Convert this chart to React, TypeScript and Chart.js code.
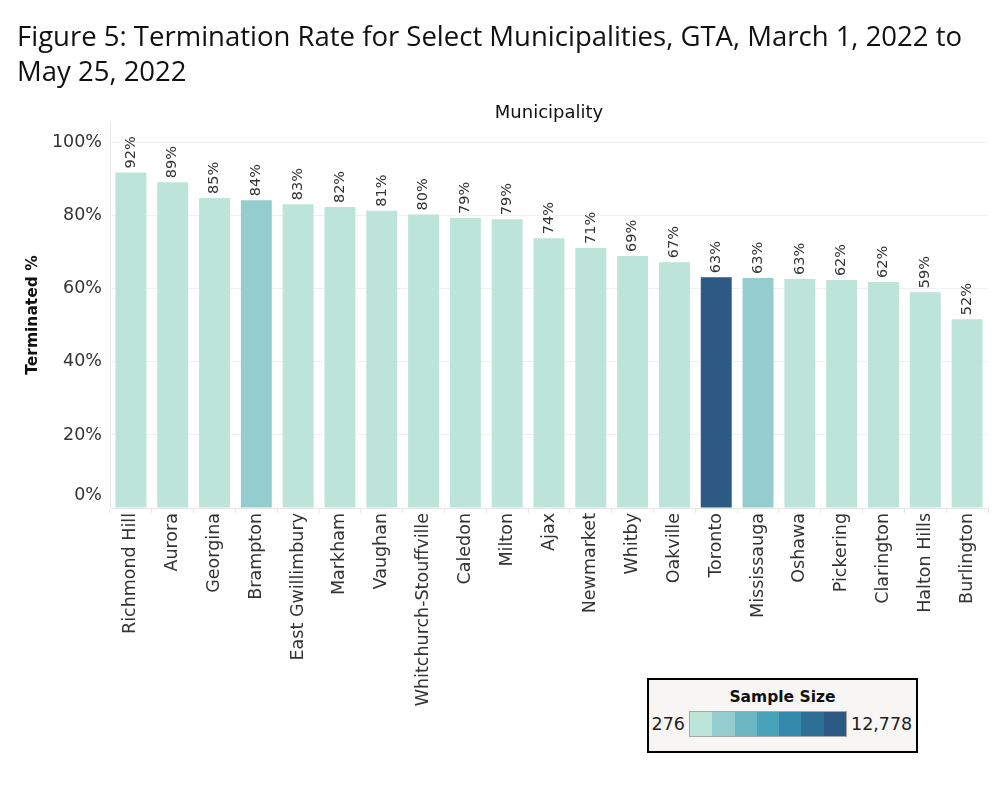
import React, { useEffect, useRef } from 'react';
import { Chart, registerables } from 'chart.js';

Chart.register(...registerables);

const titleLines = [
  'Figure 5: Termination Rate for Select Municipalities, GTA, March 1, 2022 to',
  'May 25, 2022',
];

const municipalities = [
  'Richmond Hill', 'Aurora', 'Georgina', 'Brampton', 'East Gwillimbury', 'Markham',
  'Vaughan', 'Whitchurch-Stouffville', 'Caledon', 'Milton', 'Ajax', 'Newmarket',
  'Whitby', 'Oakville', 'Toronto', 'Mississauga', 'Oshawa', 'Pickering',
  'Clarington', 'Halton Hills', 'Burlington',
];

const terminatedPct = [
  91.9, 89.2, 84.9, 84.3, 83.2, 82.4, 81.4, 80.4, 79.4, 79.1, 73.9, 71.2,
  69.0, 67.3, 63.2, 63.0, 62.7, 62.4, 61.9, 59.1, 51.7,
];

// sample-size colour band (0 = smallest … 6 = largest)
const sampleSizeBand = [0, 0, 0, 1, 0, 0, 0, 0, 0, 0, 0, 0, 0, 0, 6, 1, 0, 0, 0, 0, 0];

const sampleColors = ['#bde4d9', '#95cdcf', '#6db7c2', '#48a3ba', '#3488ab', '#2f7097', '#2d5985'];

const yTickValues = [0, 20, 40, 60, 80, 100];

const legendTitle = 'Sample Size';
const legendMin = '276';
const legendMax = '12,778';

const FONT = '"DejaVu Sans", sans-serif';

const barLabelPlugin = {
  id: 'barLabels',
  afterDatasetsDraw(chart: any) {
    const ctx = chart.ctx;
    const meta = chart.getDatasetMeta(0);
    ctx.save();
    ctx.font = '14.5px ' + FONT;
    ctx.fillStyle = '#333333';
    ctx.textAlign = 'left';
    ctx.textBaseline = 'middle';
    meta.data.forEach((bar: any, i: number) => {
      ctx.save();
      ctx.translate(bar.x, bar.y - 4);
      ctx.rotate(-Math.PI / 2);
      ctx.fillText(Math.round(terminatedPct[i]) + '%', 0, 0);
      ctx.restore();
    });
    // the 0% tick label sits slightly above the baseline
    const ys = chart.scales.y;
    ctx.font = '17.5px ' + FONT;
    ctx.textAlign = 'right';
    ctx.fillText(yTickValues[0] + '%', ys.right - 8, ys.getPixelForValue(yTickValues[0]) - 13);
    ctx.restore();
  },
};

export default function App() {
  const canvasRef = useRef<HTMLCanvasElement | null>(null);

  useEffect(() => {
    if (!canvasRef.current) return;
    const chart = new Chart(canvasRef.current, {
      type: 'bar',
      data: {
        labels: municipalities,
        datasets: [
          {
            data: terminatedPct,
            backgroundColor: sampleSizeBand.map((b) => sampleColors[b]),
            categoryPercentage: 1,
            barPercentage: 0.74,
            xAxisID: 'x',
            yAxisID: 'y',
          },
        ],
      },
      options: {
        responsive: false,
        animation: false,
        layout: { padding: { left: 17, right: 12, top: 0, bottom: 0 } },
        plugins: {
          legend: { display: false },
          tooltip: { enabled: false },
          title: {
            display: true,
            text: titleLines,
            align: 'start',
            color: '#111111',
            font: { family: '"Open Sans", sans-serif', size: 27.5, weight: 'normal', lineHeight: '35px' },
            padding: { top: 20.5, bottom: 0 },
          },
        },
        scales: {
          x: {
            type: 'category',
            position: 'bottom',
            afterFit: (s: any) => { s.height = 292; },
            grid: {
              display: true,
              drawOnChartArea: false,
              drawTicks: true,
              tickLength: 5,
              color: '#e6e6e6',
              offset: true,
            },
            border: { display: true, color: '#e6e6e6' },
            ticks: {
              minRotation: 90,
              maxRotation: 90,
              autoSkip: false,
              padding: 0,
              color: '#333333',
              font: { family: FONT, size: 17.5 },
            },
          },
          x2: {
            type: 'category',
            position: 'top',
            afterFit: (s: any) => { s.height = 31.5; },
            grid: { display: false },
            border: { display: false },
            ticks: { display: false },
            title: {
              display: true,
              text: 'Municipality',
              color: '#111111',
              font: { family: FONT, size: 18 },
              padding: { top: 12, bottom: 0 },
            },
          },
          y: {
            type: 'linear',
            min: 0,
            max: 105.7,
            afterFit: (s: any) => { s.width = 93; },
            afterBuildTicks: (s: any) => { s.ticks = yTickValues.map((v) => ({ value: v })); },
            grid: {
              drawTicks: false,
              color: (c: any) => (c.tick && c.tick.value === 0 ? 'rgba(0,0,0,0)' : '#f0f0f0'),
            },
            border: { display: true, color: '#e8e8e8' },
            ticks: {
              padding: 8,
              color: '#333333',
              font: { family: FONT, size: 17.5 },
              callback: (v: any) => (v === 0 ? '' : v + '%'),
            },
            title: {
              display: true,
              text: 'Terminated %',
              color: '#111111',
              font: { family: FONT, size: 15.5, weight: 'bold' },
              padding: { top: 6.7, bottom: 0 },
            },
          },
        },
      },
      plugins: [barLabelPlugin],
    });
    return () => chart.destroy();
  }, []);

  const textBase: React.CSSProperties = {
    position: 'absolute',
    fontFamily: FONT,
    color: '#222',
    lineHeight: '20px',
    whiteSpace: 'nowrap',
  };

  return (
    <div style={{ position: 'absolute', left: 0, top: 0, width: 1000, height: 800, background: '#fff' }}>
      <canvas ref={canvasRef} width={1000} height={800} style={{ display: 'block' }} />
      <div
        style={{
          position: 'absolute',
          left: 647,
          top: 678,
          width: 271,
          height: 75,
          boxSizing: 'border-box',
          border: '2px solid #000',
          background: '#f8f6f4',
        }}
      >
        <div style={{ ...textBase, left: 0, width: 267, top: 7, textAlign: 'center', fontWeight: 'bold', fontSize: 15.5, color: '#111' }}>
          {legendTitle}
        </div>
        <div style={{ ...textBase, left: 0, width: 36, top: 34, textAlign: 'right', fontSize: 17.5 }}>{legendMin}</div>
        <div
          style={{
            position: 'absolute',
            left: 40,
            top: 31,
            width: 158,
            height: 26,
            boxSizing: 'border-box',
            border: '1px solid #a8a69e',
            display: 'flex',
          }}
        >
          {sampleColors.map((c) => (
            <div key={c} style={{ flex: 1, background: c }} />
          ))}
        </div>
        <div style={{ ...textBase, left: 202, top: 34, fontSize: 17.5 }}>{legendMax}</div>
      </div>
    </div>
  );
}
